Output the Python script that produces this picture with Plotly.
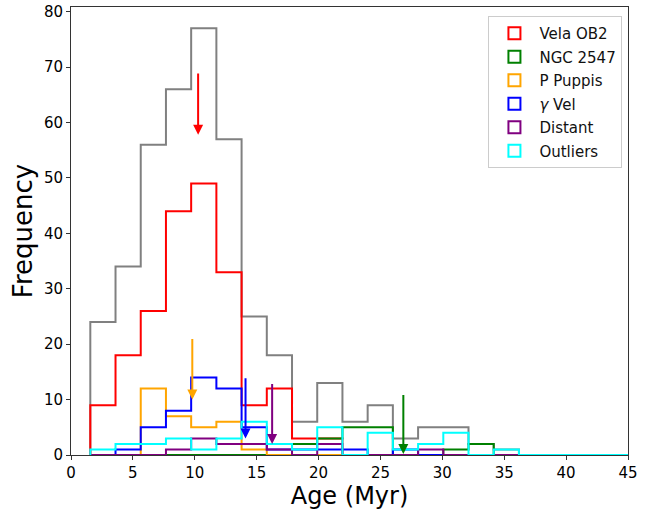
import plotly.graph_objects as go

# ---- data ----
bin_start = 1.56
bin_width = 2.037
n_bins = 22

all_counts     = [24, 34, 56, 66, 77, 57, 25, 18, 6, 13, 6, 9, 3, 5, 5, 2, 1, 0, 0, 0, 0, 0]
vela_counts    = [9, 18, 26, 44, 49, 33, 9, 12, 3, 3, 0, 0, 0, 0, 0, 0, 0, 0, 0, 0, 0, 0]
ngc_counts     = [0, 0, 0, 0, 0, 0, 0, 0, 2, 3, 5, 5, 0, 0, 1, 2, 0, 0, 0, 0, 0, 0]
ppup_counts    = [0, 0, 12, 7, 5, 6, 1, 0, 0, 0, 0, 0, 0, 0, 0, 0, 0, 0, 0, 0, 0, 0]
gvel_counts    = [0, 1, 5, 8, 14, 12, 5, 1, 1, 1, 1, 0, 1, 0, 0, 0, 0, 0, 0, 0, 0, 0]
distant_counts = [0, 0, 0, 1, 3, 2, 2, 1, 0, 2, 0, 0, 0, 1, 0, 0, 0, 0, 0, 0, 0, 0]
outlier_counts = [1, 2, 2, 3, 1, 3, 6, 2, 1, 5, 0, 4, 1, 2, 4, 0, 1, 0, 0, 0, 0, 0]

group_names  = ["Vela OB2", "NGC 2547", "P Puppis", "<i>γ</i> Vel", "Distant", "Outliers"]
group_colors = ["red", "green", "orange", "blue", "purple", "cyan"]
group_counts = [vela_counts, ngc_counts, ppup_counts, gvel_counts, distant_counts, outlier_counts]

# mean ages marked with arrows (tail top -> head tip)
arrow_age  = [10.27, 26.85, 9.8, 14.1, 16.25]
arrow_top  = [69.1, 11.1, 21.2, 14.1, 13.1]
arrow_tip  = [57.8, 0.2, 10.0, 3.0, 2.0]
arrow_cols = ["red", "green", "orange", "blue", "purple"]

edges = [bin_start + bin_width * k for k in range(n_bins + 1)]


def step_path(counts):
    xs, ys = [edges[0]], [0]
    for i, c in enumerate(counts):
        xs += [edges[i], edges[i + 1]]
        ys += [c, c]
    xs.append(edges[-1])
    ys.append(0)
    return xs, ys


FONT = "DejaVu Sans"
fig = go.Figure()

xs, ys = step_path(all_counts)
fig.add_trace(go.Scatter(x=xs, y=ys, mode="lines", line=dict(color="grey", width=2),
                         showlegend=False, hoverinfo="skip"))

for name, col, cnt in zip(group_names, group_colors, group_counts):
    xs, ys = step_path(cnt)
    fig.add_trace(go.Scatter(x=xs, y=ys, mode="lines", line=dict(color=col, width=2),
                             showlegend=False, legendgroup=name, hoverinfo="skip"))

# legend-only entries (outlined boxes like matplotlib patches)
for name, col in zip(group_names, group_colors):
    fig.add_trace(go.Bar(x=[None], y=[None], name=name, legendgroup=name,
                         marker=dict(color="rgba(0,0,0,0)", line=dict(color=col, width=2))))

for ax_, top, tip, col in zip(arrow_age, arrow_top, arrow_tip, arrow_cols):
    fig.add_annotation(x=ax_, y=tip, ax=ax_, ay=top, xref="x", yref="y", axref="x", ayref="y",
                       text="", showarrow=True, arrowhead=2, arrowsize=1, arrowwidth=2,
                       arrowcolor=col, standoff=0, startstandoff=0)

axis_common = dict(showline=True, linecolor="#333333", linewidth=1, mirror=True,
                   ticks="outside", ticklen=4, tickwidth=1, tickcolor="#333333",
                   showgrid=False, zeroline=False, automargin=False,
                   tickfont=dict(family=FONT, size=15, color="black"))

fig.update_xaxes(range=[0, 45], tick0=0, dtick=5,
                 title=dict(text="Age (Myr)", font=dict(family=FONT, size=24, color="black"), standoff=6),
                 **axis_common)
fig.update_yaxes(range=[0, 80.85], tick0=0, dtick=10,
                 title=dict(text="Frequency", font=dict(family=FONT, size=26, color="black"), standoff=3),
                 **axis_common)

fig.update_layout(
    width=655, height=510,
    margin=dict(l=71, r=27, t=7, b=55, autoexpand=False),
    plot_bgcolor="white", paper_bgcolor="white",
    font=dict(family=FONT, color="black"),
    barmode="overlay",
    legend=dict(x=0.99, y=0.98, xanchor="right", yanchor="top",
                bgcolor="white", bordercolor="#cccccc", borderwidth=1,
                font=dict(family=FONT, size=15, color="#111111"),
                itemwidth=40, tracegroupgap=1),
)

fig.write_html("out.html", config={"displayModeBar": False},
               post_script="document.body.style.margin='0';")
